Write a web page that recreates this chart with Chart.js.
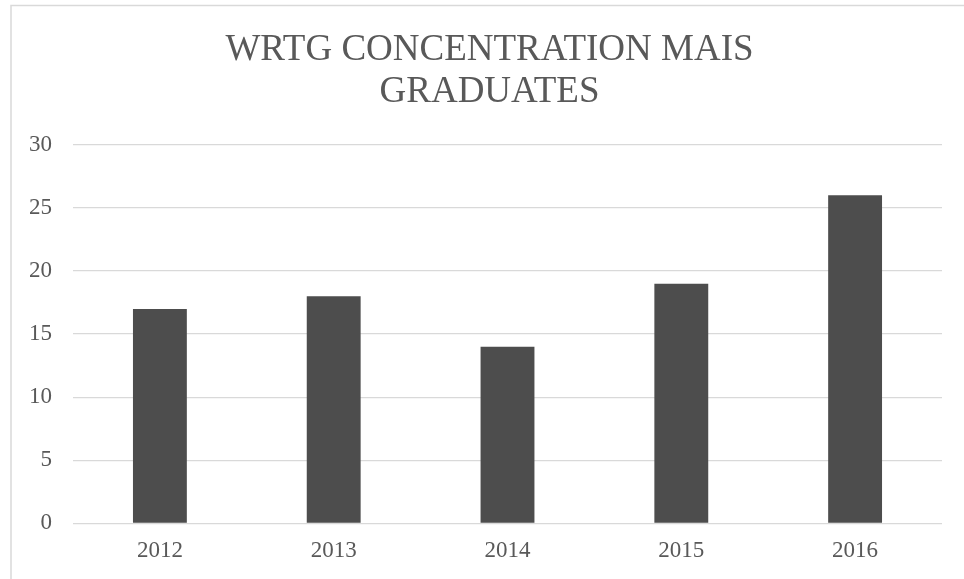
<!DOCTYPE html>
<html>
<head>
<meta charset="utf-8">
<script src="https://cdn.jsdelivr.net/npm/chart.js@4"></script>
<style>
  html, body { margin: 0; padding: 0; background: #fff; }
  #wrap { position: relative; width: 964px; height: 579px; }
</style>
</head>
<body>
<div id="wrap"><canvas id="chart" width="964" height="579"></canvas></div>
<script>
const years = ['2012', '2013', '2014', '2015', '2016'];
const graduates = [17, 18, 14, 19, 26];
const yTicks = [0, 5, 10, 15, 20, 25, 30];
const titleLines = ['WRTG CONCENTRATION MAIS', 'GRADUATES'];

// light frame round the chart (only left and top edge are in view)
const framePlugin = {
  id: 'frame',
  afterLayout(chart) {
    // title is centred on the frame, not on the canvas
    chart.titleBlock.left = 37;
  },
  beforeDraw(chart) {
    const ctx = chart.ctx;
    ctx.save();
    ctx.strokeStyle = '#d9d9d9';
    ctx.lineWidth = 1.5;
    ctx.beginPath();
    ctx.moveTo(11, chart.height + 2);
    ctx.lineTo(11, 5.5);
    ctx.lineTo(chart.width + 2, 5.5);
    ctx.stroke();
    ctx.restore();
  }
};

const ctx = document.getElementById('chart').getContext('2d');
new Chart(ctx, {
  type: 'bar',
  data: {
    labels: years,
    datasets: [{
      data: graduates,
      backgroundColor: '#4d4d4d',
      borderWidth: 0,
      categoryPercentage: 1,
      barPercentage: 0.31
    }]
  },
  options: {
    responsive: false,
    animation: false,
    layout: { padding: { left: 15, right: 22, top: 5, bottom: 0 } },
    scales: {
      x: {
        grid: { display: false, drawTicks: false },
        border: { display: false },
        ticks: {
          color: '#595959',
          padding: 14,
          font: { family: 'Liberation Serif', size: 23 }
        }
      },
      y: {
        min: 0,
        max: 30,
        afterBuildTicks: axis => { axis.ticks = yTicks.map(v => ({ value: v })); },
        afterFit: axis => { axis.width = 58; },
        grid: { color: '#d9d9d9', lineWidth: 1.3, drawTicks: false },
        border: { display: false },
        ticks: {
          color: '#595959',
          padding: 21,
          font: { family: 'Liberation Serif', size: 23 }
        }
      }
    },
    plugins: {
      legend: { display: false },
      tooltip: { enabled: false },
      title: {
        display: true,
        text: titleLines,
        color: '#595959',
        font: { family: 'Liberation Serif', size: 37, weight: 'normal', lineHeight: 1.12 },
        padding: { top: 25, bottom: 32 }
      }
    }
  },
  plugins: [framePlugin]
});
</script>
</body>
</html>
